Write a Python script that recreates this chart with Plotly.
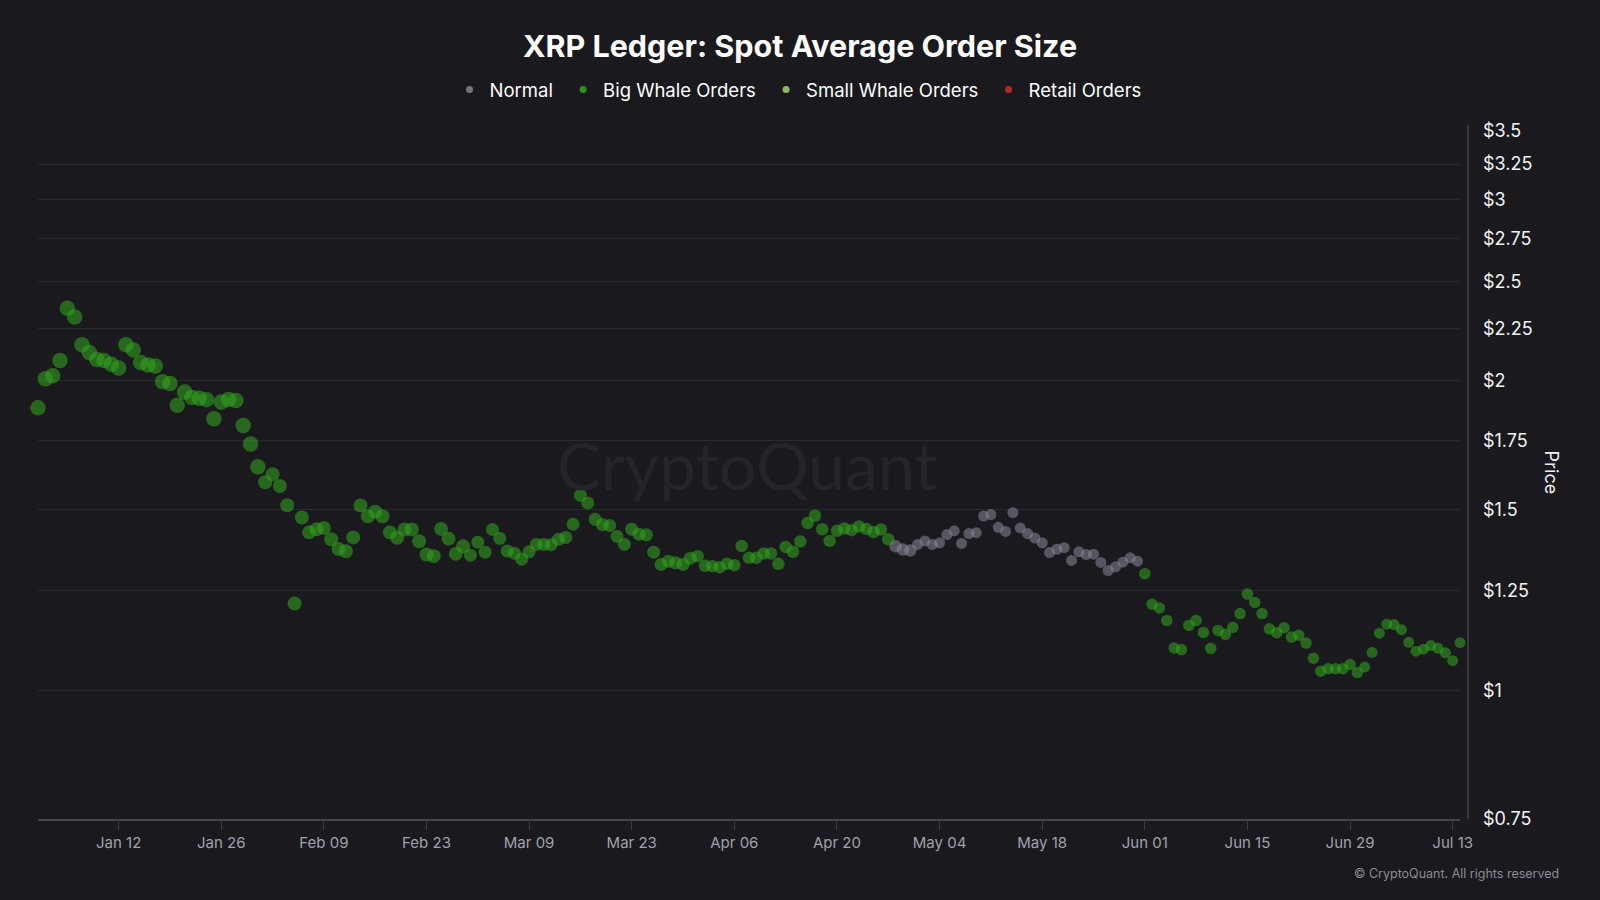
import math
import pandas as pd
import plotly.graph_objects as go

# ---- data ----
price_jan = [1.883, 2.010, 2.023, 2.094, 2.353, 2.308, 2.169, 2.131, 2.098, 2.094, 2.076,
             2.059, 2.169, 2.144, 2.084, 2.073, 2.068, 1.996, 1.989, 1.894, 1.951, 1.927,
             1.924, 1.918, 1.838, 1.908, 1.919, 1.914, 1.810, 1.737, 1.650]
price_feb = [1.594, 1.623, 1.581, 1.514, 1.215, 1.473, 1.425, 1.435, 1.439, 1.403, 1.373,
             1.366, 1.409, 1.513, 1.477, 1.492, 1.477, 1.425, 1.408, 1.434, 1.434, 1.397,
             1.356, 1.351, 1.436, 1.405, 1.358, 1.381]
price_mar = [1.354, 1.394, 1.363, 1.434, 1.406, 1.367, 1.360, 1.342, 1.364, 1.387, 1.387,
             1.386, 1.403, 1.409, 1.451, 1.548, 1.522, 1.467, 1.450, 1.447, 1.412, 1.387,
             1.435, 1.419, 1.417, 1.363, 1.326, 1.336, 1.331, 1.326, 1.345]
price_apr = [1.351, 1.322, 1.321, 1.318, 1.328, 1.324, 1.382, 1.346, 1.346, 1.359, 1.359,
             1.328, 1.379, 1.364, 1.396, 1.455, 1.479, 1.435, 1.398, 1.430, 1.437, 1.432,
             1.444, 1.436, 1.426, 1.434, 1.403, 1.381, 1.371, 1.368]
price_may = [1.387, 1.398, 1.387, 1.392, 1.418, 1.430, 1.390, 1.421, 1.424, 1.478, 1.483,
             1.441, 1.428, 1.489, 1.439, 1.421, 1.407, 1.392, 1.362, 1.372, 1.377, 1.338,
             1.364, 1.356, 1.357, 1.332, 1.308, 1.319, 1.333, 1.346, 1.336]
price_jun = [1.299, 1.213, 1.203, 1.170, 1.100, 1.096, 1.157, 1.170, 1.139, 1.099, 1.144,
             1.134, 1.152, 1.188, 1.241, 1.218, 1.188, 1.148, 1.138, 1.151, 1.127, 1.132,
             1.112, 1.075, 1.044, 1.050, 1.050, 1.050, 1.060, 1.041]
price_jul = [1.054, 1.089, 1.137, 1.160, 1.159, 1.146, 1.114, 1.092, 1.097, 1.106, 1.099,
             1.088, 1.069, 1.113]

start_date = "2025-01-01"
end_date = "2025-07-14"
normal_period = ("2025-04-28", "2025-05-31")   # days classified as "Normal"

y_tickvals = [0.75, 1, 1.25, 1.5, 1.75, 2, 2.25, 2.5, 2.75, 3, 3.25, 3.5]
y_ticktext = ["$0.75", "$1", "$1.25", "$1.5", "$1.75", "$2", "$2.25", "$2.5",
              "$2.75", "$3", "$3.25", "$3.5"]

legend_names = ["Normal", "Big Whale Orders", "Small Whale Orders", "Retail Orders"]

# ---- styles ----
BG = "#19191e"
GRID = "#2a2a31"
AXIS = "#45454f"
FONT = "Inter"
legend_colors = ["#74747f", "#2f8f1f", "#8fb86a", "#b3262b"]
point_colors = {"Normal": "rgba(134,134,150,0.82)", "Big Whale Orders": "rgba(52,166,31,0.80)"}
month_size = {1: 15.5, 2: 14, 3: 13, 4: 12.5, 5: 11, 6: 11.5, 7: 11}
PAD = "&nbsp;"

dates = pd.date_range(start_date, end_date, freq="D")
prices = price_jan + price_feb + price_mar + price_apr + price_may + price_jun + price_jul
df = pd.DataFrame({"date": dates, "price": prices})
is_normal = (df["date"] >= normal_period[0]) & (df["date"] <= normal_period[1])
df["cls"] = ["Normal" if n else "Big Whale Orders" for n in is_normal]
df["size"] = [month_size[d.month] for d in df["date"]]

fig = go.Figure()
for cls in ["Big Whale Orders", "Normal"]:
    sub = df[df["cls"] == cls]
    fig.add_trace(go.Scatter(
        x=sub["date"], y=sub["price"], mode="markers", name=cls, showlegend=False,
        cliponaxis=False,
        marker=dict(color=point_colors[cls], size=sub["size"], line=dict(width=0)),
        hovertemplate="%{x|%b %d, %Y}<br>$%{y:.3f}<extra>" + cls + "</extra>",
    ))

for i, (name, col) in enumerate(zip(legend_names, legend_colors)):
    label = name + (PAD if i < len(legend_names) - 1 else "")
    fig.add_trace(go.Scatter(x=[None], y=[None], mode="markers", name=label,
                             marker=dict(color=col, size=7)))

plot_left, plot_right, plot_top, plot_bottom = 38, 1460, 131, 819
W, H = 1600, 900
pw = plot_right - plot_left
ph = plot_bottom - plot_top

# right-hand axis line, slightly offset from plot edge
fig.add_shape(type="line", xref="paper", yref="paper",
              x0=(1468 - plot_left) / pw, x1=(1468 - plot_left) / pw,
              y0=0, y1=(plot_bottom - 125) / ph,
              line=dict(color=AXIS, width=1.5))

# watermark
fig.add_annotation(text="CryptoQuant", xref="paper", yref="paper",
                   x=(747 - plot_left) / pw, y=(plot_bottom - 464) / ph,
                   showarrow=False, font=dict(family="Lato", size=66, color="#24242a"))
# copyright
fig.add_annotation(text="© CryptoQuant. All rights reserved", xref="paper", yref="paper",
                   x=(1561 - plot_left) / pw, y=(plot_bottom - 873) / ph, xanchor="right",
                   yanchor="middle", showarrow=False,
                   font=dict(family=FONT, size=12.5, color="#8c8c95"))
# axis title
fig.add_annotation(text="Price", xref="paper", yref="paper",
                   x=(1564 - plot_left) / pw, y=(plot_bottom - 472) / ph,
                   textangle=90, showarrow=False,
                   font=dict(family=FONT, size=18, color="#f2f2f2"))

fig.update_layout(
    width=W, height=H,
    paper_bgcolor=BG, plot_bgcolor=BG,
    margin=dict(l=plot_left, r=W - plot_right, t=plot_top, b=H - plot_bottom),
    font=dict(family=FONT, color="#f2f2f2"),
    title=dict(text="<b>XRP Ledger: Spot Average Order Size</b>", x=0.5, xanchor="center",
               y=1 - 46 / H, yanchor="middle", yref="container", xref="container",
               font=dict(family=FONT, size=30.5, color="#ffffff")),
    legend=dict(orientation="h", xref="container", yref="container",
                x=798 / W, xanchor="center", y=1 - 90 / H, yanchor="middle",
                font=dict(family=FONT, size=18.5, color="#ffffff"),
                bgcolor="rgba(0,0,0,0)", itemclick=False),
    showlegend=True,
    xaxis=dict(
        type="date", range=[start_date, end_date],
        tick0="2025-01-12", dtick=14 * 24 * 3600 * 1000, tickformat="%b %d",
        showgrid=False, zeroline=False,
        showline=True, linecolor=AXIS, linewidth=1.5,
        ticks="outside", ticklen=9, tickcolor="#3a3a43", tickwidth=1,
        tickfont=dict(family=FONT, size=15, color="#a2a2ab"),
    ),
    yaxis=dict(
        type="log", side="right",
        range=[math.log10(0.75), math.log10(3.5)],
        tickvals=y_tickvals, ticktext=y_ticktext,
        showgrid=True, gridcolor=GRID, gridwidth=1, zeroline=False,
        showline=False, ticks="", ticklabelstandoff=22,
        tickfont=dict(family=FONT, size=18, color="#f2f2f2"),
    ),
)

fig.write_html("out.html")
